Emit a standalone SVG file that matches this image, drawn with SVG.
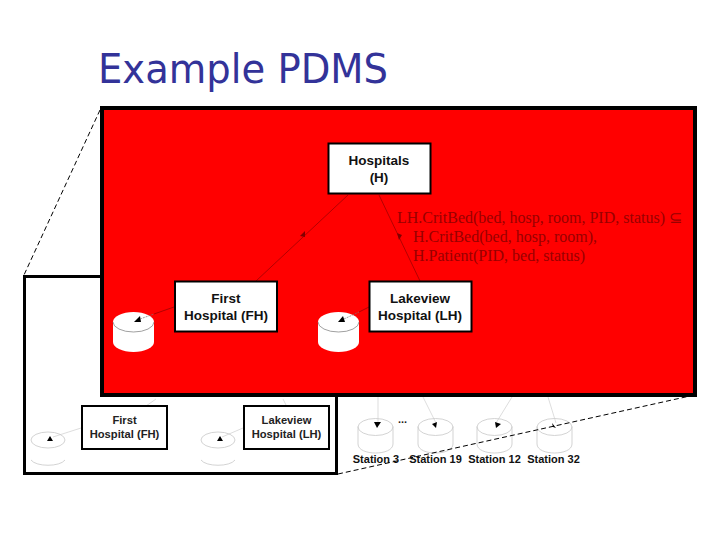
<svg xmlns="http://www.w3.org/2000/svg" width="720" height="540" viewBox="0 0 720 540">
<style>
text{font-family:"Liberation Sans",Arial,sans-serif}
.box{fill:#fff;stroke:#000;stroke-width:2}
.big{font-size:13.5px;font-weight:bold;text-anchor:middle;fill:#111}
.small{font-size:11.2px;font-weight:bold;text-anchor:middle;fill:#222}
.st{font-size:11px;font-weight:bold;text-anchor:middle;fill:#111}
.q{font-family:"Liberation Serif",serif;font-size:16px;fill:#980000}
.ghost{fill:none;stroke:#c8c8c8;stroke-width:.8}
.gl{stroke:#d4d4d4;stroke-width:.8;fill:none}
.rl{stroke:#a00000;stroke-width:.8;fill:none}
.dash{stroke:#000;stroke-width:1;stroke-dasharray:5 3;fill:none}
.cyl{fill:#fff;stroke:none}
.cylt{fill:none;stroke:#777;stroke-width:.7}
</style>
<rect width="720" height="540" fill="#fff"/>
<text x="98" y="83" font-size="41" style="font-family:'DejaVu Sans',Verdana,sans-serif" fill="#333399" textLength="290" lengthAdjust="spacingAndGlyphs">Example PDMS</text>

<g id="back-panel">
<rect x="24.500" y="276.500" width="312" height="197" fill="#fff" stroke="#000" stroke-width="3"/>
</g>
<g id="connectors-back">
<path class="dash" d="M100 110L24 275"/>
<path class="gl" d="M156 399L146 406M283 399L286 405M81 428L53 437M243 428L222 437M378 397V423M423 397L436 423M512 397L496 423M548 397L556 423"/>
</g>
<g id="lower-first">
<rect class="box" x="82" y="406" width="85" height="43"/>
<text class="small" x="124.500" y="424">First</text>
<text class="small" x="124.500" y="438">Hospital (FH)</text>
</g>
<g id="lower-lakeview">
<rect class="box" x="244" y="406" width="85" height="43"/>
<text class="small" x="286.500" y="424">Lakeview</text>
<text class="small" x="286.500" y="438">Hospital (LH)</text>
</g>
<g id="lower-db-1">
<ellipse class="ghost" cx="48" cy="440" rx="17" ry="8"/>
<path class="ghost" d="M31 460C36 467 60 467 65 460"/>
<path d="M47 441L53 441L50 436Z" fill="#000"/>
</g>
<g id="lower-db-2">
<ellipse class="ghost" cx="218" cy="440" rx="17" ry="8"/>
<path class="ghost" d="M201 460C206 467 230 467 235 460"/>
<path d="M217 441L223 441L220 436Z" fill="#000"/>
</g>
<g id="station-3">
<path class="ghost" d="M358 426.500V444C358 456 393 456 393 444V426.500"/><ellipse class="ghost" cx="375.500" cy="427" rx="17.500" ry="8.500"/>
<path d="M374 422L381 422L377 428Z" fill="#000"/>
<text class="st" x="376" y="463">Station 3</text>
</g>
<text x="398" y="423" font-size="11" font-weight="bold" fill="#222">...</text>
<g id="station-19">
<path class="ghost" d="M418 426.500V444C418 456 453 456 453 444V426.500"/><ellipse class="ghost" cx="435.500" cy="427" rx="17.500" ry="8.500"/>
<path d="M432 424L437 422L436 428Z" fill="#000"/>
<text class="st" x="435.500" y="463">Station 19</text>
</g>
<g id="station-12">
<path class="ghost" d="M477 426.500V444C477 456 512 456 512 444V426.500"/><ellipse class="ghost" cx="494.500" cy="427" rx="17.500" ry="8.500"/>
<path d="M495 422L501 424L496 428Z" fill="#000"/>
<text class="st" x="494.500" y="463">Station 12</text>
</g>
<g id="station-32">
<path class="ghost" d="M537 426.500V444C537 456 572 456 572 444V426.500"/><ellipse class="ghost" cx="554.500" cy="427" rx="17.500" ry="8.500"/>
<path d="M552 423L556 428L553 427Z" fill="#000"/>
<text class="st" x="553.500" y="463">Station 32</text>
</g>
<path class="dash" d="M338 474L690 396"/>

<g id="red-panel">
<rect x="102" y="108" width="593" height="287" fill="#ff0000" stroke="#000" stroke-width="4"/>
</g>
<g id="connectors-front">
<path class="rl" d="M348 195L256 281"/>
<path d="M300 236L305 231L305 237Z" fill="#800000"/>
<path class="rl" d="M379 195L420 281"/>
<path d="M397 233L402 235L399 240Z" fill="#800000"/>
<path class="rl" d="M174 307L154 314"/>
<path class="rl" d="M369 307L359 312"/>
</g>
<g id="hospitals">
<rect class="box" x="328.500" y="143.500" width="102" height="50"/>
<text class="big" x="379" y="165">Hospitals</text>
<text class="big" x="379" y="182">(H)</text>
</g>
<g id="first-hospital">
<rect class="box" x="175" y="281.500" width="102" height="50"/>
<text class="big" x="226" y="303">First</text>
<text class="big" x="226" y="319.500">Hospital (FH)</text>
</g>
<g id="lakeview-hospital">
<rect class="box" x="369.500" y="281.500" width="102" height="50"/>
<text class="big" x="420" y="303">Lakeview</text>
<text class="big" x="420" y="319.500">Hospital (LH)</text>
</g>
<g id="db-first">
<path class="cyl" d="M113 322A20.500 10 0 0 1 154 322V342A20.500 10 0 0 1 113 342Z"/>
<path class="cylt" d="M113 322A20.500 10 0 0 0 154 322"/>
<path d="M134 322L140 316L141 322Z" fill="#000"/>
<path class="cylt" stroke-dasharray="2 1" d="M140 319L154 314"/>
</g>
<g id="db-lakeview">
<path class="cyl" d="M318 322A20.500 10 0 0 1 359 322V342A20.500 10 0 0 1 318 342Z"/>
<path class="cylt" d="M318 322A20.500 10 0 0 0 359 322"/>
<path d="M338 322L343 316L345 322Z" fill="#000"/>
<path class="cylt" stroke-dasharray="2 1" d="M344 319L359 312"/>
</g>
<g id="mapping">
<text class="q" x="397" y="223">LH.CritBed(bed, hosp, room, PID, status) ⊆</text>
<text class="q" x="413" y="242">H.CritBed(bed, hosp, room),</text>
<text class="q" x="413" y="261">H.Patient(PID, bed, status)</text>
</g>
</svg>
